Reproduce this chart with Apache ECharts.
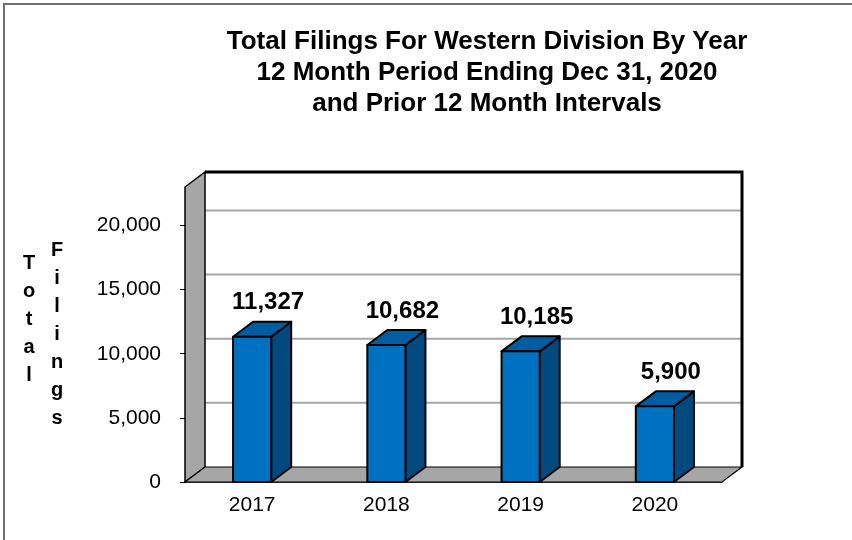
<!DOCTYPE html>
<html>
<head>
<meta charset="utf-8">
<script src="https://cdn.jsdelivr.net/npm/echarts@6/dist/echarts.min.js"></script>
<style>
  html, body { margin: 0; padding: 0; background: #fff; }
  #chart { width: 852px; height: 540px; }
</style>
</head>
<body>
<div id="chart"></div>
<script>
// data
const years = ['2017', '2018', '2019', '2020']
const filings = [11327, 10682, 10185, 5900]
const yTicks = [5000, 10000, 15000, 20000]

// pseudo 3d depth offset in px
const DX = 20, DY = -15
const FONT = 'Arial, "Liberation Sans", sans-serif'

const chart = echarts.init(document.getElementById('chart'))

function renderFrame (params, api) {
  const cs = params.coordSys
  const L = cs.x, R = cs.x + cs.width, T = cs.y, B = cs.y + cs.height
  const children = []
  // back wall
  children.push({
    type: 'polygon',
    shape: { points: [[L + DX, T + DY], [R + DX, T + DY], [R + DX, B + DY], [L + DX, B + DY]] },
    style: { fill: '#fff', stroke: null }
  })
  // grid lines on the back wall
  yTicks.forEach(v => {
    const y = api.coord([0, v])[1] + DY
    children.push({
      type: 'line',
      shape: { x1: L + DX, y1: y, x2: R + DX, y2: y },
      style: { stroke: '#a6a6a6', lineWidth: 2 }
    })
  })
  // side wall
  children.push({
    type: 'polygon',
    shape: { points: [[L, B], [L, T], [L + DX, T + DY], [L + DX, B + DY]] },
    style: { fill: '#a6a6a6', stroke: '#000', lineWidth: 1.5 }
  })
  // floor
  children.push({
    type: 'polygon',
    shape: { points: [[L, B], [L + DX, B + DY], [R + DX, B + DY], [R, B]] },
    style: { fill: '#a6a6a6', stroke: '#000', lineWidth: 1.2 }
  })
  // back wall border top + right
  children.push({
    type: 'polyline',
    shape: { points: [[L + DX, T + DY], [R + DX, T + DY], [R + DX, B + DY]] },
    style: { fill: null, stroke: '#000', lineWidth: 3 }
  })
  return { type: 'group', children: children }
}

function renderBar (params, api) {
  const p0 = api.coord([api.value(0), 0])
  const p1 = api.coord([api.value(0), api.value(1)])
  const w = api.size([1, 0])[0] * 0.284
  const x0 = p0[0] - w / 2, x1 = p0[0] + w / 2
  const yb = p0[1], yt = p1[1]
  const line = { stroke: '#000', lineWidth: 2, lineJoin: 'round' }
  return {
    type: 'group',
    children: [
      {
        type: 'polygon',
        shape: { points: [[x1, yb], [x1, yt], [x1 + DX, yt + DY], [x1 + DX, yb + DY]] },
        style: Object.assign({ fill: '#004a80' }, line)
      },
      {
        type: 'polygon',
        shape: { points: [[x0, yt], [x1, yt], [x1 + DX, yt + DY], [x0 + DX, yt + DY]] },
        style: Object.assign({ fill: '#005da2' }, line)
      },
      {
        type: 'rect',
        shape: { x: x0, y: yt, width: w, height: yb - yt },
        style: Object.assign({ fill: '#0070c0' }, line)
      },
      {
        type: 'text',
        x: p0[0] + DX / 2 + 6,
        y: yt + DY - 7,
        style: {
          text: api.value(1).toLocaleString('en-US'),
          font: 'bold 24px ' + FONT,
          fill: '#000',
          align: 'center',
          verticalAlign: 'bottom'
        }
      }
    ]
  }
}

const option = {
  animation: false,
  backgroundColor: '#fff',
  grid: { left: 185, right: 130, top: 187, bottom: 58 },
  xAxis: {
    type: 'category',
    data: years,
    axisLine: { lineStyle: { color: '#000', width: 1.5 } },
    axisTick: { length: 6, lineStyle: { color: '#000' } },
    axisLabel: { color: '#000', fontSize: 21, fontFamily: FONT, margin: 13 }
  },
  yAxis: {
    type: 'value',
    min: 0,
    max: 23000,
    interval: 5000,
    axisLine: { show: false },
    axisTick: { show: true, length: 5, lineStyle: { color: '#000' } },
    splitLine: { show: false },
    axisLabel: {
      color: '#000', fontSize: 21, fontFamily: FONT, margin: 24,
      showMaxLabel: false,
      formatter: v => v % 5000 === 0 ? v.toLocaleString('en-US') : ''
    }
  },
  graphic: [
    {
      type: 'rect', silent: true,
      shape: { x: 4, y: 4, width: 900, height: 600 },
      style: { fill: null, stroke: '#6f6f6f', lineWidth: 2 }
    },
    {
      type: 'text', x: 487, y: 26,
      style: {
        text: 'Total Filings For Western Division By Year\n12 Month Period Ending Dec 31, 2020\nand Prior 12 Month Intervals',
        font: 'bold 26px ' + FONT, fill: '#000', align: 'center', lineHeight: 31
      }
    },
    {
      type: 'text', x: 29, y: 249,
      style: { text: 'T\no\nt\na\nl', font: 'bold 20px ' + FONT, fill: '#000', align: 'center', lineHeight: 28 }
    },
    {
      type: 'text', x: 57, y: 236,
      style: { text: 'F\ni\nl\ni\nn\ng\ns', font: 'bold 20px ' + FONT, fill: '#000', align: 'center', lineHeight: 28 }
    }
  ],
  series: [
    {
      name: 'frame',
      type: 'custom',
      data: [[0]],
      renderItem: renderFrame,
      silent: true,
      z: 1
    },
    {
      name: 'Total Filings',
      type: 'custom',
      data: filings.map((v, i) => [i, v]),
      encode: { x: 0, y: 1 },
      renderItem: renderBar,
      z: 3
    }
  ]
}
chart.setOption(option)
</script>
</body>
</html>
